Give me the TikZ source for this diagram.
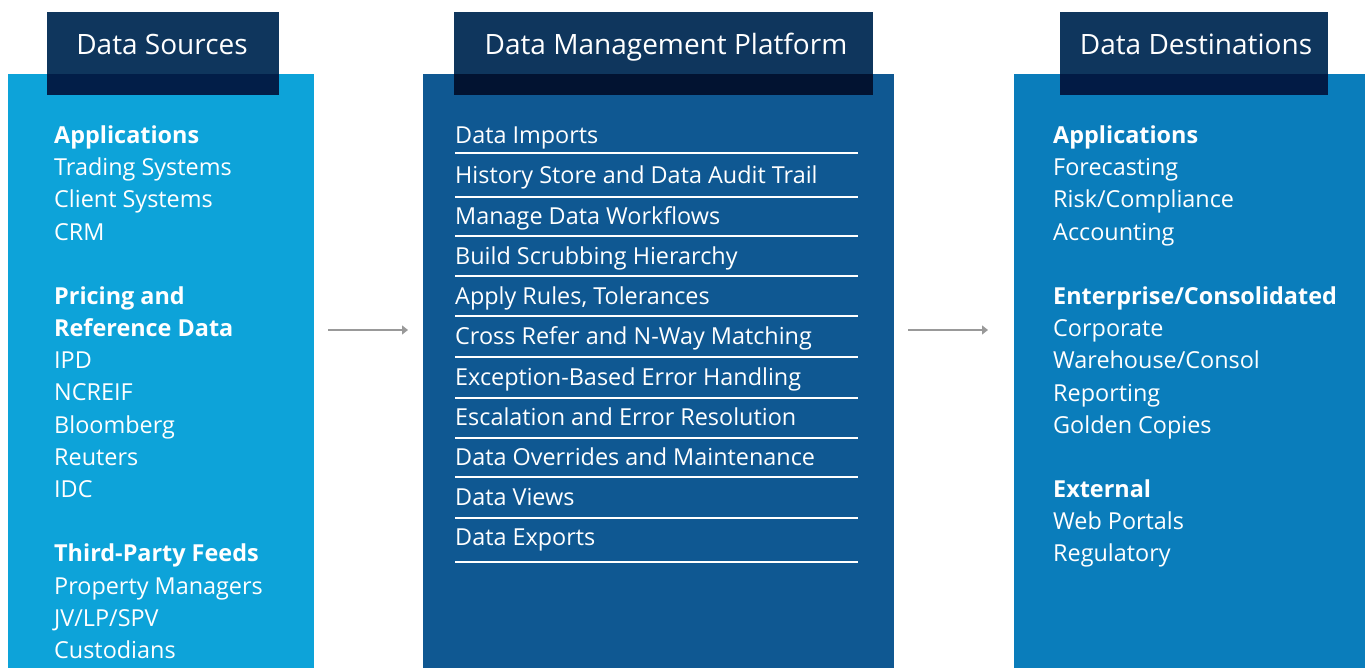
\documentclass[tikz,border=0pt]{standalone}
\usepackage{fontspec}
\setmainfont{Open Sans}
\usetikzlibrary{arrows.meta}
\definecolor{lpanel}{HTML}{0DA3D9}
\definecolor{mpanel}{HTML}{0F5892}
\definecolor{rpanel}{HTML}{0A7DBB}
\definecolor{hdr}{HTML}{0F365D}
\definecolor{hdrl}{HTML}{021E48}
\definecolor{hdrm}{HTML}{021331}
\definecolor{hdrr}{HTML}{021B45}
\definecolor{arr}{HTML}{999999}
\tikzset{
  panel/.style={inner sep=0pt, outer sep=0pt},
  hdrtext/.style={text=white, font=\fontsize{28}{32}\selectfont, anchor=base, inner sep=0pt, yshift=-1pt},
  item/.style={text=white, font=\fontsize{23.4}{27}\selectfont, anchor=base west, inner sep=0pt, yshift=-1.5pt},
  bitem/.style={item, font=\fontsize{23.4}{27}\selectfont\bfseries},
  sep/.style={draw=white, line width=1.3pt},
  flow/.style={draw=arr, line width=1.3pt, -{Triangle[length=6pt,width=9pt]}},
}
\begin{document}
\begin{tikzpicture}[x=1pt,y=-1pt]
\useasboundingbox (0,0) rectangle (1365,668);
\fill[white] (0,0) rectangle (1365,668);
% panels
\fill[lpanel] (8,74) rectangle (314,668);
\fill[mpanel] (423,74) rectangle (894,668);
\fill[rpanel] (1014,74) rectangle (1365,668);
\node[panel, minimum width=306pt, minimum height=594pt] (left) at (161,371) {};
\node[panel, minimum width=471pt, minimum height=594pt] (mid) at (658.5,371) {};
\node[panel, minimum width=351pt, minimum height=594pt] (right) at (1189.5,371) {};
% headers
\fill[hdr] (47,12) rectangle (279,74);
\fill[hdrl] (47,74) rectangle (279,95);
\fill[hdr] (454,12) rectangle (873,74);
\fill[hdrm] (454,74) rectangle (873,95);
\fill[hdr] (1060,12) rectangle (1328,74);
\fill[hdrr] (1060,74) rectangle (1328,95);
\node[hdrtext] (hl) at (162,54) {Data Sources};
\node[hdrtext] (hm) at (666,54) {Data Management Platform};
\node[hdrtext] (hr) at (1196,54) {Data Destinations};
% left list
\node[bitem] (l1) at (54,142) {Applications};
\node[item] (l2) at (54,174) {Trading Systems};
\node[item] (l3) at (54,206) {Client Systems};
\node[item] (l4) at (54,239) {CRM};
\node[bitem] (l5) at (54,303) {Pricing and};
\node[bitem] (l6) at (54,335) {Reference Data};
\node[item] (l7) at (54,367) {IPD};
\node[item] (l8) at (54,399) {NCREIF};
\node[item] (l9) at (54,432) {Bloomberg};
\node[item] (l10) at (54,464) {Reuters};
\node[item] (l11) at (54,496) {IDC};
\node[bitem] (l12) at (54,560) {Third-Party Feeds};
\node[item] (l13) at (54,593) {Property Managers};
\node[item] (l14) at (54,625) {JV/LP/SPV};
\node[item] (l15) at (54,657) {Custodians};
% middle list
\node[item] (m1) at (455,142) {Data Imports};
\node[item] (m2) at (455,182) {History Store and Data Audit Trail};
\node[item] (m3) at (455,223) {Manage Data Workflows};
\node[item] (m4) at (455,263) {Build Scrubbing Hierarchy};
\node[item] (m5) at (455,303) {Apply Rules, Tolerances};
\node[item] (m6) at (455,343) {Cross Refer and N-Way Matching};
\node[item] (m7) at (455,384) {Exception-Based Error Handling};
\node[item] (m8) at (455,424) {Escalation and Error Resolution};
\node[item] (m9) at (455,464) {Data Overrides and Maintenance};
\node[item] (m10) at (455,504) {Data Views};
\node[item] (m11) at (455,544) {Data Exports};
\foreach \y in {153,197,236,276,316,357,398,438,477,518,562}
  \draw[sep] (455,\y) -- (858,\y);
% right list
\node[bitem] (r1) at (1053,142) {Applications};
\node[item] (r2) at (1053,174) {Forecasting};
\node[item] (r3) at (1053,206) {Risk/Compliance};
\node[item] (r4) at (1053,239) {Accounting};
\node[bitem] (r5) at (1053,303) {Enterprise/Consolidated};
\node[item] (r6) at (1053,335) {Corporate};
\node[item] (r7) at (1053,367) {Warehouse/Consol};
\node[item] (r8) at (1053,400) {Reporting};
\node[item] (r9) at (1053,432) {Golden Copies};
\node[bitem] (r10) at (1053,496) {External};
\node[item] (r11) at (1053,528) {Web Portals};
\node[item] (r12) at (1053,560) {Regulatory};
% arrows
\coordinate (a1s) at (328,330);
\coordinate (a1e) at (408,330);
\coordinate (a2s) at (908,330);
\coordinate (a2e) at (988,330);
\draw[flow] (a1s) -- (a1e);
\draw[flow] (a2s) -- (a2e);
\end{tikzpicture}
\end{document}
